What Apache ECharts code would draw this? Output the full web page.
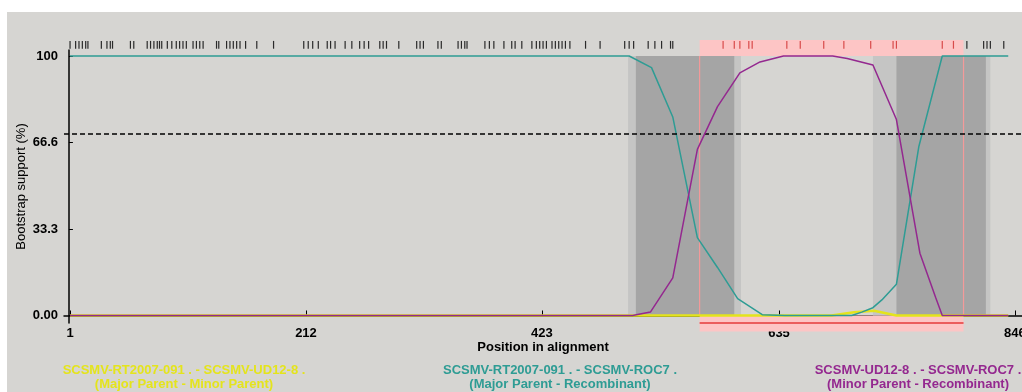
<!DOCTYPE html>
<html>
<head>
<meta charset="utf-8">
<script src="https://cdn.jsdelivr.net/npm/echarts@6/dist/echarts.min.js"></script>
<style>
html,body{margin:0;padding:0;background:#ffffff;}
#chart{width:1022px;height:392px;}
</style>
</head>
<body>
<div id="chart"></div>
<script>
// ---- data ----
const xTickValues = [1, 212, 423, 635, 846];
const yTickValues = [0, 33.3, 66.6, 100];
const yTickLabels = ['0.00', '33.3', '66.6', '100'];
const cutoffValue = 70;

const seriesNames = [
  'SCSMV-RT2007-091 . - SCSMV-UD12-8 .',
  'SCSMV-RT2007-091 . - SCSMV-ROC7 .',
  'SCSMV-UD12-8 . - SCSMV-ROC7 .'
];
const seriesRoles = [
  '(Major Parent - Minor Parent)',
  '(Major Parent - Recombinant)',
  '(Minor Parent - Recombinant)'
];

// Major parent vs minor parent (yellow)
const majorMinor = [[1,0],[682,0],[702,1.2],[720,1.8],[740,0],[840,0]];
// Major parent vs recombinant (teal)
const majorRecomb = [[1,100],[501,100],[521,95.5],[540,76.5],[562,30],[580,18.5],[598,6.5],[620,0.3],[640,0],[700,0],[709,1.3],[719,3],[727,6],[740,12],[760,65],[781,100],[840,100]];
// Minor parent vs recombinant (purple)
const minorRecomb = [[1,0],[504,0],[520,1.3],[540,14.5],[562,64],[580,80.5],[600,93.5],[618,97.7],[639,100],[683,100],[696,99],[719,96.5],[740,75.5],[761,24],[775,7],[781,0],[840,0]];

// informative sites (tick marks along the top)
const informativeSites = [1,6,9,12,15,17,29,34,37,39,55,58,70,73,76,79,81,83,88,92,96,99,102,105,111,114,117,120,132,134,141,144,147,150,153,158,168,183,210,214,218,223,231,234,238,247,253,260,264,268,278,281,284,295,311,314,317,330,333,348,351,354,356,372,376,380,389,396,399,405,414,418,421,424,427,432,435,438,441,444,448,462,475,497,501,505,518,524,530,538,540,585,595,600,608,611,642,654,675,693,717,737,740,781,791,803,818,821,824,836];

// recombination region and breakpoint confidence regions
const recombRegion = [564, 800];
const lightGrayRegions = [[500, 601], [719, 824]];
const darkGrayRegions = [[507, 595], [740, 820]];

// ---- chart ----
const FONT = '"Liberation Sans", Arial, sans-serif';
const COLORS = ['#e4e41c', '#2e9c94', '#94288f'];
const Y_MIN = -2.9, Y_MAX = 102.3;

const chart = echarts.init(document.getElementById('chart'), null, {renderer: 'canvas'});

const grayData = lightGrayRegions.map(r => [r[0], r[1], 0]).concat(darkGrayRegions.map(r => [r[0], r[1], 1]));

const option = {
  animation: false,
  backgroundColor: '#ffffff',
  grid: {left: 64, top: 50, width: 958, height: 273, containLabel: false, outerBoundsMode: 'none'},
  xAxis: {
    type: 'value', min: -4.4, max: 852.3,
    name: 'Position in alignment', nameLocation: 'middle', nameGap: 18, nameMoveOverlap: false,
    nameTextStyle: {color: '#000', fontSize: 13, fontWeight: 'bold', fontFamily: FONT},
    axisLine: {show: true, lineStyle: {color: '#000', width: 1.5}},
    axisTick: {show: true, inside: true, length: 5, customValues: xTickValues, lineStyle: {color: '#000'}},
    axisLabel: {customValues: xTickValues, color: '#000', fontSize: 13, fontWeight: 'bold', fontFamily: FONT, margin: 4, hideOverlap: false},
    splitLine: {show: false}
  },
  yAxis: {
    type: 'value', min: Y_MIN, max: Y_MAX,
    name: 'Bootstrap support (%)', nameLocation: 'middle', nameGap: 36, nameMoveOverlap: false,
    nameTextStyle: {color: '#000', fontSize: 13, fontFamily: FONT},
    axisLine: {show: true, lineStyle: {color: '#000', width: 1.5}},
    axisTick: {show: true, inside: true, length: 4, customValues: yTickValues, lineStyle: {color: '#000'}},
    axisLabel: {
      customValues: yTickValues, color: '#000', fontSize: 13, fontWeight: 'bold', fontFamily: FONT, margin: 6,
      formatter: function (v) { const i = yTickValues.indexOf(v); return i >= 0 ? yTickLabels[i] : ''; }
    },
    splitLine: {show: false}
  },
  graphic: [
    {type: 'rect', left: 7, top: 12, shape: {width: 1015, height: 380}, style: {fill: '#d6d5d2'}, z: -10, silent: true}
  ].concat(
    [[184, 0], [560, 1], [918, 2]].flatMap(([cx, i]) => [
      {type: 'text', x: cx, y: 370, z: 10, style: {text: seriesNames[i], fill: COLORS[i], font: 'bold 13px ' + FONT, align: 'center', verticalAlign: 'middle'}},
      {type: 'text', x: cx, y: 384, z: 10, style: {text: seriesRoles[i], fill: COLORS[i], font: 'bold 13px ' + FONT, align: 'center', verticalAlign: 'middle'}}
    ])
  ),
  series: [
    {
      type: 'custom', name: 'breakpoint CI', z: 1, silent: true, clip: false,
      data: grayData,
      encode: {x: [0, 1]},
      renderItem: function (params, api) {
        const s = api.coord([api.value(0), 100]);
        const e = api.coord([api.value(1), 0]);
        return {type: 'rect', shape: {x: s[0], y: s[1], width: e[0] - s[0], height: e[1] - s[1]},
          style: {fill: api.value(2) ? '#a5a5a5' : '#c5c5c4'}};
      }
    },
    {
      type: 'custom', name: 'recombinant region', z: 2, silent: true, clip: false,
      data: [recombRegion],
      encode: {x: [0, 1]},
      renderItem: function (params, api) {
        const a = api.value(0), b = api.value(1);
        const t1 = api.coord([a, 106.2]), t2 = api.coord([b, 100]);
        const b1 = api.coord([a, 0]), b2 = api.coord([b, -6.2]);
        const ax1 = api.coord([a, Y_MIN]), ax2 = api.coord([b, Y_MIN]);
        return {type: 'group', children: [
          {type: 'rect', shape: {x: t1[0], y: t1[1], width: t2[0] - t1[0], height: t2[1] - t1[1]}, style: {fill: '#fdc5c5'}},
          {type: 'rect', shape: {x: b1[0], y: b1[1], width: b2[0] - b1[0], height: b2[1] - b1[1]}, style: {fill: '#fdc5c5'}},
          {type: 'line', shape: {x1: t1[0], y1: t2[1], x2: b1[0], y2: b1[1]}, style: {stroke: '#f49a9a', lineWidth: 1.2}},
          {type: 'line', shape: {x1: t2[0], y1: t2[1], x2: b2[0], y2: b1[1]}, style: {stroke: '#f49a9a', lineWidth: 1.2}},
          {type: 'line', shape: {x1: ax1[0], y1: ax1[1], x2: ax2[0], y2: ax2[1]}, style: {stroke: '#e43a3a', lineWidth: 1.5}}
        ]};
      }
    },
    {
      type: 'custom', name: 'informative sites', z: 6, silent: true, clip: false,
      data: informativeSites.map(p => [p]),
      encode: {x: 0},
      renderItem: function (params, api) {
        const v = api.value(0);
        const top = api.coord([v, 105.8]);
        const bot = api.coord([v, 102.8]);
        const inside = v >= recombRegion[0] && v <= recombRegion[1];
        return {type: 'line', shape: {x1: top[0], y1: top[1], x2: bot[0], y2: bot[1]},
          style: {stroke: inside ? '#d84a4a' : '#2a2a2a', lineWidth: 1.2}};
      }
    },
    {
      type: 'line', name: seriesNames[0], data: majorMinor, z: 3, showSymbol: false, silent: true,
      lineStyle: {color: COLORS[0], width: 2.5},
      markLine: {silent: true, symbol: 'none', label: {show: false},
        lineStyle: {color: '#000', type: [5, 3], width: 1.5}, data: [{yAxis: cutoffValue}]}
    },
    {
      type: 'line', name: seriesNames[1], data: majorRecomb, z: 4, showSymbol: false, silent: true,
      lineStyle: {color: COLORS[1], width: 1.5}
    },
    {
      type: 'line', name: seriesNames[2], data: minorRecomb, z: 5, showSymbol: false, silent: true,
      lineStyle: {color: COLORS[2], width: 1.5}
    }
  ]
};
chart.setOption(option);
</script>
</body>
</html>
